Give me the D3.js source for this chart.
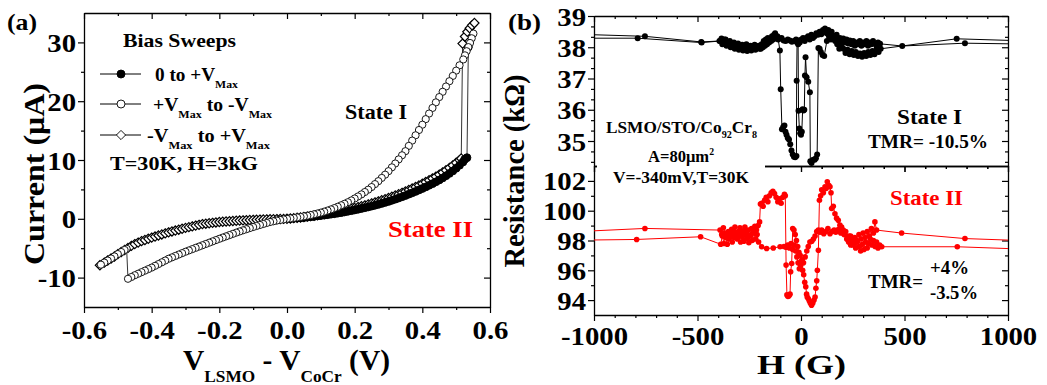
<!DOCTYPE html>
<html><head><meta charset="utf-8">
<script src="https://cdn.jsdelivr.net/npm/d3@7"></script>
<style>body{margin:0;background:#fff}svg{display:block}</style>
</head><body>
<svg id="c" width="1047" height="385"></svg>
<script>
// ---------------- DATA: panel (a) I-V bias sweeps [V (V), I (uA)] ----------------
const sweepZeroToMax = [[0,0],[0.01,0.04],[0.02,0.08],[0.03,0.12],[0.04,0.17],[0.05,0.22],[0.06,0.28],[0.07,0.34],[0.08,0.41],[0.09,0.48],[0.10,0.55],[0.11,0.62],[0.12,0.70],[0.13,0.78],[0.14,0.86],[0.15,0.95],[0.16,1.05],[0.17,1.16],[0.18,1.27],[0.19,1.38],[0.20,1.50],[0.21,1.62],[0.22,1.75],[0.23,1.88],[0.24,2.01],[0.25,2.15],[0.26,2.30],[0.27,2.45],[0.28,2.61],[0.29,2.78],[0.30,2.95],[0.31,3.14],[0.32,3.33],[0.33,3.53],[0.34,3.74],[0.35,3.95],[0.36,4.18],[0.37,4.41],[0.38,4.65],[0.39,4.90],[0.40,5.15],[0.41,5.42],[0.42,5.70],[0.43,5.98],[0.44,6.28],[0.45,6.60],[0.46,6.95],[0.47,7.32],[0.48,7.72],[0.49,8.14],[0.50,8.60],[0.51,9.10],[0.52,9.65],[0.525,10.1],[0.532,10.4],[0.536,29.2]];

const sweepMaxToMinus = [[0.551,31.5],[0.546,30.7],[0.541,29.9],[0.536,29.2],[0.531,28.5],[0.526,27.8],[0.521,27.1],[0.51,26.1],[0.50,25.2],[0.49,24.3],[0.48,23.4],[0.47,22.5],[0.46,21.6],[0.45,20.7],[0.44,19.8],[0.43,18.85],[0.42,17.9],[0.41,16.95],[0.40,16.0],[0.39,15.1],[0.38,14.2],[0.37,13.3],[0.36,12.4],[0.35,11.5],[0.34,10.8],[0.33,10.1],[0.32,9.4],[0.31,8.75],[0.30,8.1],[0.29,7.5],[0.28,6.95],[0.27,6.4],[0.26,5.9],[0.25,5.4],[0.24,4.95],[0.23,4.55],[0.22,4.15],[0.21,3.8],[0.20,3.45],[0.19,3.12],[0.18,2.82],[0.17,2.55],[0.16,2.3],[0.15,2.05],[0.14,1.82],[0.13,1.6],[0.12,1.4],[0.11,1.22],[0.10,1.05],[0.09,0.9],[0.08,0.77],[0.07,0.64],[0.06,0.52],[0.05,0.42],[0.04,0.32],[0.03,0.23],[0.02,0.15],[0.01,0.07],[0,0],[-0.01,-0.1],[-0.02,-0.2],[-0.03,-0.3],[-0.04,-0.42],[-0.05,-0.55],[-0.06,-0.71],[-0.07,-0.88],[-0.08,-1.05],[-0.09,-1.22],[-0.10,-1.4],[-0.11,-1.58],[-0.12,-1.77],[-0.13,-1.96],[-0.14,-2.15],[-0.15,-2.35],[-0.16,-2.56],[-0.17,-2.77],[-0.18,-2.98],[-0.19,-3.19],[-0.20,-3.4],[-0.21,-3.62],[-0.22,-3.84],[-0.23,-4.06],[-0.24,-4.28],[-0.25,-4.5],[-0.26,-4.72],[-0.27,-4.94],[-0.28,-5.16],[-0.29,-5.38],[-0.30,-5.6],[-0.31,-5.84],[-0.32,-6.08],[-0.33,-6.32],[-0.34,-6.56],[-0.35,-6.8],[-0.36,-7.1],[-0.37,-7.4],[-0.38,-7.7],[-0.39,-8.0],[-0.40,-8.3],[-0.41,-8.56],[-0.42,-8.82],[-0.43,-9.08],[-0.44,-9.34],[-0.45,-9.6],[-0.46,-9.9],[-0.47,-10.2],[-0.474,-5.1],[-0.48,-5.3],[-0.49,-5.65],[-0.50,-6.0],[-0.51,-6.4],[-0.52,-6.75],[-0.53,-7.1],[-0.54,-7.45],[-0.55,-7.8]];

const sweepMinusToMax = [[-0.553,-7.9],[-0.54,-7.45],[-0.53,-7.1],[-0.52,-6.75],[-0.51,-6.4],[-0.50,-6.0],[-0.49,-5.65],[-0.48,-5.3],[-0.47,-4.95],[-0.46,-4.6],[-0.45,-4.3],[-0.44,-4.05],[-0.43,-3.8],[-0.42,-3.6],[-0.41,-3.4],[-0.40,-3.2],[-0.39,-3.02],[-0.38,-2.84],[-0.37,-2.66],[-0.36,-2.48],[-0.35,-2.3],[-0.34,-2.15],[-0.33,-2.0],[-0.32,-1.85],[-0.31,-1.7],[-0.30,-1.55],[-0.29,-1.42],[-0.28,-1.29],[-0.27,-1.16],[-0.26,-1.03],[-0.25,-0.9],[-0.24,-0.83],[-0.23,-0.76],[-0.22,-0.69],[-0.21,-0.62],[-0.20,-0.55],[-0.19,-0.5],[-0.18,-0.46],[-0.17,-0.42],[-0.16,-0.37],[-0.15,-0.33],[-0.14,-0.3],[-0.13,-0.27],[-0.12,-0.24],[-0.11,-0.21],[-0.10,-0.18],[-0.09,-0.16],[-0.08,-0.14],[-0.07,-0.12],[-0.06,-0.10],[-0.05,-0.08],[-0.04,-0.06],[-0.03,-0.05],[-0.02,-0.03],[-0.01,-0.02],[0,0],[0.01,0.06],[0.02,0.11],[0.03,0.17],[0.04,0.23],[0.05,0.3],[0.06,0.37],[0.07,0.45],[0.08,0.53],[0.09,0.62],[0.10,0.71],[0.11,0.8],[0.12,0.9],[0.13,1.0],[0.14,1.1],[0.15,1.21],[0.16,1.33],[0.17,1.45],[0.18,1.58],[0.19,1.71],[0.20,1.85],[0.21,1.99],[0.22,2.14],[0.23,2.29],[0.24,2.45],[0.25,2.62],[0.26,2.79],[0.27,2.97],[0.28,3.15],[0.29,3.34],[0.30,3.54],[0.31,3.75],[0.32,3.96],[0.33,4.18],[0.34,4.41],[0.35,4.65],[0.36,4.9],[0.37,5.15],[0.38,5.41],[0.39,5.68],[0.40,5.96],[0.41,6.25],[0.42,6.55],[0.43,6.86],[0.44,7.18],[0.45,7.52],[0.46,7.88],[0.47,8.26],[0.48,8.66],[0.49,9.08],[0.50,9.52],[0.51,9.98],[0.515,10.25],[0.519,29.8],[0.526,31.0],[0.533,31.8],[0.540,32.4],[0.547,32.9],[0.554,33.3]];

const ivXTicks = [-0.6,-0.4,-0.2,0,0.2,0.4,0.6];
const ivYTicks = [-10,0,10,20,30];

// ---------------- DATA: panel (b) R vs H [H (G), R (kOhm)] ----------------
const stateIUp = [[-1200,38.29],[-789,38.29],[-480,38.15],[-390,38.2],[-380,38.1],[-370,38.25],[-360,38.05],[-350,38.15],[-340,38.0],[-330,38.1],[-320,37.95],[-310,38.05],[-300,37.92],[-290,38.02],[-280,37.9],[-270,38.0],[-260,37.88],[-250,37.98],[-240,37.9],[-230,38.0],[-220,37.92],[-210,38.02],[-200,37.95],[-190,38.1],[-180,38.2],[-170,38.25],[-160,38.3],[-150,38.22],[-140,38.35],[-130,38.4],[-125,38.45],[-118,38.3],[-110,38.25],[-102,37.9],[-98,36.66],[-92,35.38],[-86,35.45],[-80,35.5],[-75,35.3],[-70,35.2],[-64,35.1],[-58,35.05],[-52,34.9],[-46,34.7],[-40,34.57],[-34,34.5],[-28,34.48],[-22,34.52],[-21,36.93],[-19,38.15],[-14,38.22],[-6,38.15],[2,38.25],[10,38.3],[18,38.2],[26,38.3],[34,38.35],[42,38.25],[50,38.4],[58,38.3],[66,38.35],[74,38.45],[82,38.4],[90,38.5],[98,38.42],[106,38.55],[116,38.6],[124,38.45],[132,38.55],[140,38.4],[148,38.5],[156,38.35],[164,38.3],[172,38.4],[180,38.25],[188,38.3],[196,38.2],[204,38.28],[212,38.15],[220,38.25],[228,38.12],[236,38.22],[244,38.1],[252,38.2],[260,38.05],[268,38.15],[276,38.1],[284,38.2],[292,38.05],[300,38.15],[308,38.1],[316,38.2],[324,38.05],[332,38.15],[340,38.1],[348,38.2],[356,38.12],[364,38.05],[372,38.15],[382,38.11],[489,38.04],[792,38.13],[1200,38.09]];

const stateIDown = [[1200,38.18],[752,38.27],[385,37.95],[375,37.85],[365,37.92],[355,37.78],[345,37.88],[335,37.75],[325,37.85],[315,37.72],[305,37.82],[295,37.7],[285,37.8],[275,37.72],[265,37.85],[255,37.75],[245,37.88],[235,37.78],[225,37.92],[215,37.82],[205,37.95],[195,38.05],[185,37.95],[175,38.1],[165,38.2],[155,38.3],[145,38.25],[135,38.35],[125,38.2],[112,37.72],[104,37.75],[96,37.85],[90,37.95],[84,37.98],[78,34.57],[72,34.45],[66,34.4],[59,34.4],[51,34.3],[45,34.35],[43,36.56],[35,36.9],[27,37.04],[22,37.68],[19,37.1],[16,36.0],[12,35.98],[8,36.02],[4,35.3],[0,35.2],[-4,35.25],[-8,35.4],[-12,35.97],[-14,38.1],[-24,38.25],[-34,38.2],[-44,38.18],[-54,38.22],[-64,38.25],[-74,38.2],[-84,38.22],[-94,38.3],[-104,38.28],[-114,38.35],[-124,38.3],[-134,38.25],[-144,38.2],[-154,38.15],[-164,38.1],[-174,38.05],[-184,38.0],[-194,37.95],[-204,38.05],[-214,37.98],[-224,38.08],[-234,37.95],[-244,38.05],[-254,38.0],[-264,38.1],[-274,37.98],[-284,38.08],[-294,38.0],[-304,38.12],[-314,38.05],[-324,38.15],[-334,38.1],[-344,38.2],[-354,38.15],[-364,38.25],[-374,38.2],[-384,38.28],[-394,38.2],[-482,38.17],[-754,38.35],[-1200,38.44]];

const stateIIUp = [[-1200,98.52],[-754,98.81],[-391,98.7],[-383,98.4],[-375,98.85],[-367,98.5],[-359,98.2],[-351,98.6],[-343,98.35],[-335,98.75],[-327,98.45],[-319,98.9],[-311,98.3],[-303,98.6],[-295,98.85],[-287,98.4],[-279,98.65],[-271,98.9],[-263,98.5],[-255,98.7],[-247,98.35],[-239,98.8],[-231,98.55],[-223,98.95],[-215,98.7],[-207,99.0],[-200,99.25],[-196,100.45],[-190,100.5],[-183,100.3],[-176,100.7],[-168,100.9],[-160,100.6],[-152,101.0],[-144,101.2],[-136,101.3],[-128,101.15],[-120,100.9],[-112,100.6],[-104,100.8],[-96,100.5],[-88,100.9],[-80,101.1],[-76,101.0],[-72,96.35],[-68,94.35],[-63,94.25],[-58,94.3],[-53,94.4],[-50,95.9],[-45,96.46],[-40,98.8],[-34,98.7],[-28,98.4],[-22,98.0],[-16,97.6],[-10,97.2],[-4,97.0],[2,96.6],[8,96.0],[13,95.7],[18,95.2],[23,94.9],[27,94.4],[30,94.2],[35,94.1],[40,93.95],[45,93.8],[51,93.66],[57,93.8],[63,94.0],[68,94.2],[72,94.8],[76,95.3],[79,96.0],[84,97.35],[89,100.7],[95,101.0],[100,101.4],[108,101.2],[116,101.6],[122,101.5],[127,101.94],[134,101.7],[140,101.6],[145,101.2],[148,100.15],[156,100.3],[164,99.8],[172,99.5],[180,99.36],[188,99.03],[196,98.9],[204,98.7],[212,98.4],[221,98.1],[230,97.9],[240,98.3],[250,97.7],[260,98.2],[270,98.0],[280,98.4],[290,98.1],[300,98.5],[310,98.2],[320,98.6],[330,98.3],[340,98.8],[350,98.5],[357,99.25],[365,98.7],[486,98.5],[792,98.13],[1200,97.93]];

const stateIIDown = [[1200,97.36],[755,97.58],[390,97.58],[380,97.7],[372,97.5],[365,97.9],[358,97.6],[350,98.0],[342,97.7],[335,98.1],[328,97.8],[320,97.5],[312,97.9],[304,97.4],[296,97.75],[288,97.3],[280,97.6],[272,97.9],[264,97.5],[256,97.8],[248,98.05],[240,97.7],[232,98.3],[224,98.1],[216,98.6],[208,98.4],[200,98.7],[192,98.5],[184,98.75],[176,98.7],[168,98.55],[160,98.7],[150,98.6],[140,98.45],[130,98.8],[120,98.6],[110,98.45],[100,98.7],[92,98.55],[84,98.7],[76,98.6],[68,98.3],[60,98.1],[52,97.95],[43,97.9],[35,97.6],[28,97.3],[20,96.9],[12,96.5],[5,96.7],[-2,96.3],[-8,96.1],[-14,96.5],[-20,96.9],[-26,97.3],[-33,97.7],[-40,97.4],[-48,97.8],[-56,97.5],[-64,97.7],[-72,97.55],[-82,97.6],[-101,97.58],[-134,97.5],[-166,97.46],[-190,97.58],[-205,97.9],[-212,98.4],[-220,98.1],[-228,98.5],[-236,98.0],[-244,98.3],[-252,97.85],[-260,98.15],[-268,98.4],[-276,97.95],[-284,98.25],[-292,97.9],[-300,98.3],[-308,98.1],[-316,98.55],[-324,98.2],[-332,97.9],[-340,98.4],[-348,98.1],[-356,97.75],[-364,98.2],[-372,97.8],[-380,98.3],[-388,97.75],[-485,98.25],[-794,98.07],[-1200,98.0]];

const hTicks = [-1000,-500,0,500,1000];
const rTopTicks = [35,36,37,38,39];
const rBotTicks = [94,96,98,100,102];

// ---------------- DRAWING ----------------
const svg = d3.select('#c');
const FONT = '"Liberation Serif","Times New Roman",Times,serif';
const RED = '#ff0000';
const TICKSX = 1.15;

function label(x, y, parts, o = {}) {
  const size = o.size || 20;
  const t = svg.append('text')
    .attr('font-family', FONT).attr('font-weight', 'bold')
    .attr('font-size', size).attr('fill', o.fill || '#000')
    .attr('text-anchor', o.anchor || 'start');
  if (o.rotate) t.attr('transform', `translate(${x},${y}) rotate(-90)`).attr('x', 0).attr('y', 0);
  else t.attr('x', x).attr('y', y);
  if (o.width) t.attr('textLength', o.width).attr('lengthAdjust', 'spacingAndGlyphs');
  let shift = 0;
  parts.forEach(p => {
    const [s, kind] = typeof p === 'string' ? [p, 'n'] : p;
    const ts = t.append('tspan').text(s);
    const target = kind === 'sub' ? size * (o.subShift || 0.38) : kind === 'sup' ? -size * 0.42 : 0;
    const dy = target - shift; shift = target;
    if (dy) ts.attr('dy', dy);
    if (kind !== 'n') ts.attr('font-size', o.subSize || size * 0.6);
  });
  return t;
}

function styleAxis(g, withText) {
  g.select('.domain').attr('stroke', '#000').attr('stroke-width', 1.3);
  g.selectAll('.tick line').attr('stroke', '#000').attr('stroke-width', 1.2);
  g.selectAll('.tick text').attr('font-family', FONT).attr('font-weight', 'bold')
    .attr('font-size', 25).attr('fill', '#000');
  if (!withText) g.selectAll('.tick text').remove();
  return g;
}
const dash = s => s.replace('\u2212', '-');

function drawAxes(x, y, x0, x1, y0, y1, xMaj, xMin, yMaj, yMin, o) {
  const gb = svg.append('g').attr('transform', `translate(0,${y1})`)
    .call(d3.axisBottom(x).tickValues(xMaj).tickSize(6).tickSizeOuter(0).tickFormat(o.xFmt || (() => '')));
  styleAxis(gb, !!o.xFmt);
  gb.selectAll('.tick text').attr('y', 0).attr('dy', 0)
    .attr('transform', `translate(0,${o.xLabY}) scale(${TICKSX},1)`);
  const gbm = svg.append('g').attr('transform', `translate(0,${y1})`)
    .call(d3.axisBottom(x).tickValues(xMin).tickSize(3).tickFormat(''));
  styleAxis(gbm, false); gbm.select('.domain').remove();
  const gt = svg.append('g').attr('transform', `translate(0,${y0})`)
    .call(d3.axisBottom(x).tickValues(xMaj).tickSize(6).tickSizeOuter(0).tickFormat(''));
  styleAxis(gt, false);
  const gtm = svg.append('g').attr('transform', `translate(0,${y0})`)
    .call(d3.axisBottom(x).tickValues(xMin).tickSize(3).tickFormat(''));
  styleAxis(gtm, false); gtm.select('.domain').remove();
  const gl = svg.append('g').attr('transform', `translate(${x0},0)`)
    .call(d3.axisLeft(y).tickValues(yMaj).tickSize(6).tickSizeOuter(0).tickFormat(o.yFmt));
  styleAxis(gl, true);
  gl.selectAll('.tick text').attr('x', 0).attr('dy', '0.36em')
    .attr('transform', `translate(-8,0) scale(${TICKSX},1)`);
  const glm = svg.append('g').attr('transform', `translate(${x0},0)`)
    .call(d3.axisLeft(y).tickValues(yMin).tickSize(3).tickFormat(''));
  styleAxis(glm, false); glm.select('.domain').remove();
  const gr = svg.append('g').attr('transform', `translate(${x1},0)`)
    .call(d3.axisLeft(y).tickValues(yMaj).tickSize(6).tickSizeOuter(0).tickFormat(''));
  styleAxis(gr, false);
  const grm = svg.append('g').attr('transform', `translate(${x1},0)`)
    .call(d3.axisLeft(y).tickValues(yMin).tickSize(3).tickFormat(''));
  styleAxis(grm, false); grm.select('.domain').remove();
}

// ======== Panel (a) ========
const xA = d3.scaleLinear().domain([-0.6, 0.6]).range([84, 490]);
const yA = d3.scaleLinear().domain([-15, 35]).range([307, 13]);

drawAxes(xA, yA, 84, 490, 13, 307, ivXTicks, [-0.5,-0.3,-0.1,0.1,0.3,0.5], ivYTicks, [-5,5,15,25],
  { xFmt: d => dash(d3.format('.1f')(d)), yFmt: d => dash(String(d)), xLabY: 32 });

const lineA = d3.line().x(d => xA(d[0])).y(d => yA(d[1]));
const diamondPath = 'M0,-4.6L4.6,0L0,4.6L-4.6,0Z';

function ivSeries(data, kind) {
  const g = svg.append('g');
  g.append('path').attr('d', lineA(data)).attr('fill', 'none').attr('stroke', '#000').attr('stroke-width', 0.8);
  data.forEach(d => {
    if (kind === 'diamond') {
      g.append('path').attr('d', diamondPath).attr('transform', `translate(${xA(d[0])},${yA(d[1])})`)
        .attr('fill', '#fff').attr('stroke', '#000').attr('stroke-width', 1.2);
    } else {
      g.append('circle').attr('cx', xA(d[0])).attr('cy', yA(d[1])).attr('r', kind === 'filled' ? 3.9 : 3.6)
        .attr('fill', kind === 'filled' ? '#000' : '#fff').attr('stroke', '#000').attr('stroke-width', 0.9);
    }
  });
}
ivSeries(sweepMinusToMax, 'diamond');
ivSeries(sweepZeroToMax, 'filled');
ivSeries(sweepMaxToMinus, 'open');

// legend
label(123, 47, ['Bias Sweeps'], { size: 19, width: 113 });
const legY = [74, 104, 135];
legY.forEach((ly, i) => {
  svg.append('line').attr('x1', 100).attr('x2', 141).attr('y1', ly).attr('y2', ly).attr('stroke', '#000').attr('stroke-width', 1);
  if (i === 2) svg.append('path').attr('d', diamondPath).attr('transform', `translate(121,${ly})`).attr('fill', '#fff').attr('stroke', '#000').attr('stroke-width', 0.9);
  else svg.append('circle').attr('cx', 121).attr('cy', ly).attr('r', 4).attr('fill', i === 0 ? '#000' : '#fff').attr('stroke', '#000').attr('stroke-width', 0.9);
});
label(155, 81, ['0 to +V', ['Max', 'sub']], { size: 18, subSize: 11, width: 83 });
label(153, 111, ['+V', ['Max', 'sub'], ' to -V', ['Max', 'sub']], { size: 18, subSize: 11, width: 119 });
label(147, 142, ['-V', ['Max', 'sub'], ' to +V', ['Max', 'sub']], { size: 18, subSize: 11, width: 123 });
label(110, 170, ['T=30K, H=3kG'], { size: 19, width: 148 });
label(345, 119, ['State I'], { size: 22, width: 62 });
label(388, 237, ['State II'], { size: 24, width: 85, fill: RED });
label(7, 30, ['(a)'], { size: 24, width: 30 });
label(44, 174, ['Current (μA)'], { size: 30, rotate: true, anchor: 'middle', width: 182 });
label(183, 370, ['V', ['LSMO', 'sub'], ' - V', ['CoCr', 'sub'], ' (V)'], { size: 29, subSize: 17, width: 207, subShift: 0.42 });

// ======== Panel (b) ========
const xB = d3.scaleLinear().domain([-1000, 1000]).range([594, 1008]);
const yT = d3.scaleLinear().domain([34.2, 39]).range([166, 16]);
const yB = d3.scaleLinear().domain([93, 103]).range([315, 166]);
const hMinor = d3.range(-900, 1000, 100).filter(v => v % 500 !== 0);

drawAxes(xB, yB, 594, 1008, 166, 315, hTicks, hMinor, rBotTicks, [95, 97, 99, 101],
  { xFmt: d => dash(String(d)), yFmt: d => String(d), xLabY: 30 });
const topMinor = [];
[34, 35, 36, 37, 38].forEach(v => { [1/3, 2/3].forEach(f => { if (v + f > 34.2) topMinor.push(v + f); }); });
drawAxes(xB, yT, 594, 1008, 16, 166, hTicks, hMinor, rTopTicks, topMinor,
  { xFmt: null, yFmt: d => String(d), xLabY: 0 });

const clip = svg.append('clipPath').attr('id', 'clipB');
clip.append('rect').attr('x', 594).attr('y', 0).attr('width', 414).attr('height', 385);

function rSeries(data, y, color, r) {
  const g = svg.append('g').attr('clip-path', 'url(#clipB)');
  g.append('path').attr('d', d3.line().x(d => xB(d[0])).y(d => y(d[1]))(data))
    .attr('fill', 'none').attr('stroke', color).attr('stroke-width', 1);
  g.selectAll('circle').data(data).join('circle')
    .attr('cx', d => xB(d[0])).attr('cy', d => y(d[1])).attr('r', r).attr('fill', color);
}
rSeries(stateIUp, yT, '#000', 3);
rSeries(stateIDown, yT, '#000', 3);
rSeries(stateIIUp, yB, RED, 2.8);
rSeries(stateIIDown, yB, RED, 2.8);

svg.append('rect').attr('x', 597).attr('y', 120).attr('width', 168).attr('height', 72).attr('fill', '#fff');
label(606, 133, ['LSMO/STO/Co', ['92', 'sub'], 'Cr', ['8', 'sub']], { size: 17, subSize: 10, width: 151, subShift: 0.3 });
label(648, 162, ['A=80μm', ['2', 'sup']], { size: 17, subSize: 10, width: 66 });
label(613, 183, ['V=-340mV,T=30K'], { size: 17, width: 136 });
label(897, 124, ['State I'], { size: 22, width: 65 });
label(868, 148, ['TMR= -10.5%'], { size: 18, width: 120 });
label(890, 205, ['State II'], { size: 22, width: 73, fill: RED });
label(868, 288, ['TMR='], { size: 18, width: 55 });
label(930, 274, ['+4%'], { size: 18, width: 39 });
label(930, 299, ['-3.5%'], { size: 18, width: 48 });
label(508, 30, ['(b)'], { size: 24, width: 33 });
label(524, 171, ['Resistance (kΩ)'], { size: 30, rotate: true, anchor: 'middle', width: 193 });
label(757, 374, ['H (G)'], { size: 27, width: 89 });
</script>
</body></html>
